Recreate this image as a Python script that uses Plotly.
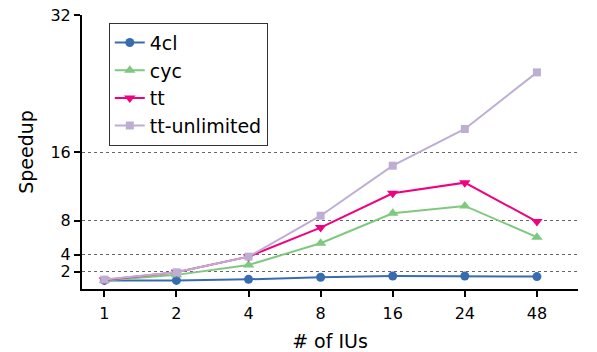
import plotly.graph_objects as go

ius = ["1", "2", "4", "8", "16", "24", "48"]
s_4cl = [1.0, 1.0, 1.13, 1.37, 1.52, 1.52, 1.45]
s_cyc = [1.0, 1.65, 2.8, 5.35, 8.85, 9.7, 6.05]
s_tt = [1.05, 1.95, 3.78, 7.17, 11.18, 12.42, 7.87]
s_ttu = [1.1, 1.95, 3.78, 8.56, 14.4, 18.69, 25.3]
y_ticks = [2, 4, 8, 16, 32]

series = [
    ("4cl", s_4cl, "#386cb0", "circle", 9),
    ("cyc", s_cyc, "#7fc97f", "triangle-up", 10),
    ("tt", s_tt, "#f0027f", "triangle-down", 10),
    ("tt-unlimited", s_ttu, "#beaed4", "square", 8),
]

fig = go.Figure()
for name, vals, col, sym, sz in series:
    fig.add_trace(go.Scatter(
        x=ius, y=vals, name=name, mode="lines+markers",
        line=dict(color=col, width=2),
        marker=dict(color=col, symbol=sym, size=sz, line=dict(width=0)),
    ))

FS = 16
font = dict(family="DejaVu Sans", size=FS, color="black")
fig.update_layout(
    width=597, height=352,
    margin=dict(l=82, r=19, t=15, b=63, autoexpand=False),
    paper_bgcolor="white", plot_bgcolor="white",
    font=font,
    showlegend=True,
    legend=dict(
        x=0.054, y=0.972, xanchor="left", yanchor="top",
        bordercolor="#333333", borderwidth=1, bgcolor="white",
        font=dict(family="DejaVu Sans", size=19, color="black"),
        itemwidth=30,
    ),
    xaxis=dict(
        type="category", categoryorder="array", categoryarray=ius,
        range=[-0.31, 6.57], automargin=False,
        showline=True, linecolor="black", linewidth=2,
        ticks="outside", ticklen=6, tickwidth=1.5, tickcolor="black",
        ticklabelstandoff=3, ticklabeloverflow="allow",
        showgrid=False, zeroline=False,
        title=dict(text="# of IUs", standoff=13),
    ),
    yaxis=dict(
        range=[0, 32], automargin=False,
        tickvals=y_ticks, ticktext=[str(v) for v in y_ticks],
        ticklabeloverflow="allow",
        showline=True, linecolor="black", linewidth=2,
        ticks="outside", ticklen=6, tickwidth=1.5, tickcolor="black",
        showgrid=True, gridcolor="#666666", gridwidth=1, griddash="dot",
        zeroline=False,
        title=dict(text="Speedup", standoff=12),
    ),
)

fig.write_html(
    "out.html",
    config={"displayModeBar": False},
    post_script="document.body.style.margin='0';document.body.style.overflow='hidden';",
)
